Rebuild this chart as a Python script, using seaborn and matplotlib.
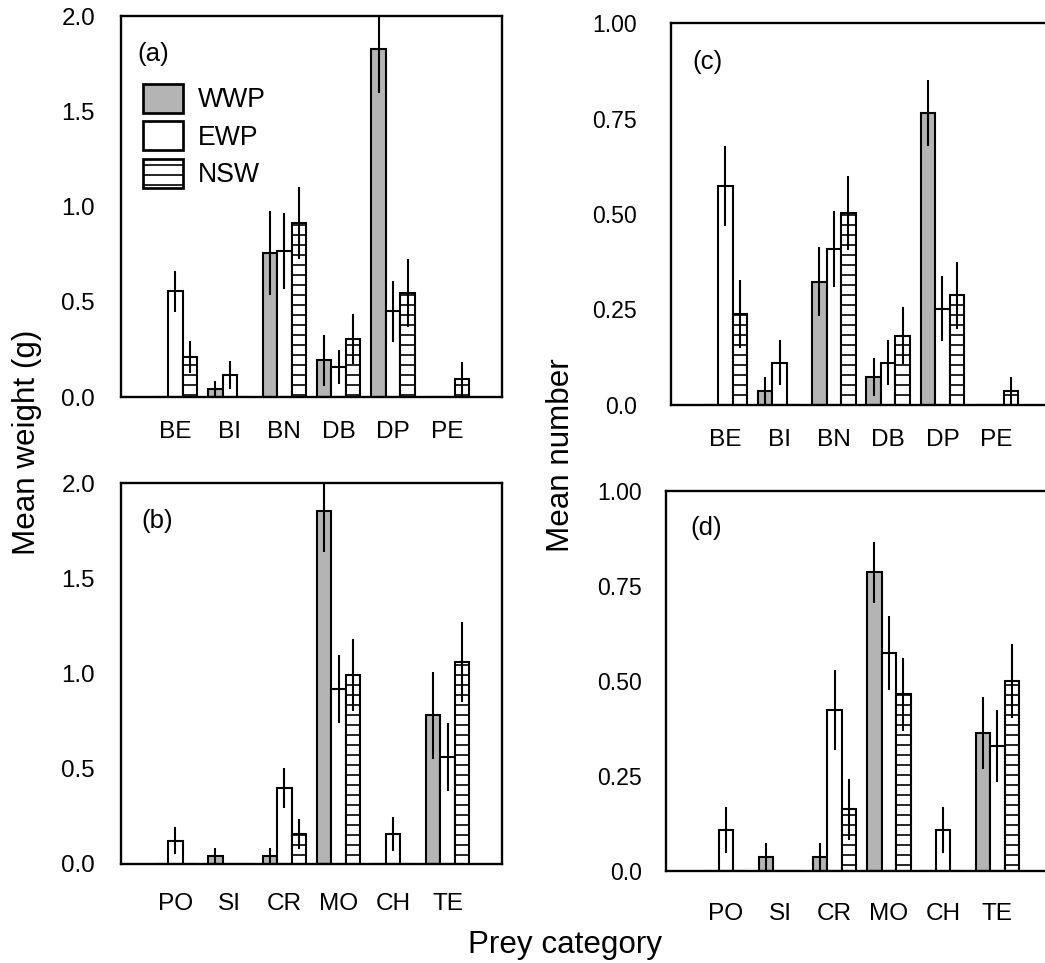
import numpy as np
import pandas as pd
import matplotlib
matplotlib.use("Agg")
import matplotlib.pyplot as plt
from matplotlib.patches import Patch
import seaborn as sns

# ---------------- data ----------------
sites = ["WWP", "EWP", "NSW"]
cats_top = ["BE", "BI", "BN", "DB", "DP", "PE"]
cats_bot = ["PO", "SI", "CR", "MO", "CH", "TE"]

# (a) mean weight, top categories
wt_top_WWP = [0.0, 0.042, 0.756, 0.193, 1.826, 0.0]
wt_top_EWP = [0.554, 0.116, 0.768, 0.156, 0.449, 0.0]
wt_top_NSW = [0.209, 0.0, 0.914, 0.304, 0.546, 0.093]
wt_top_WWP_se = [0.0, 0.040, 0.220, 0.135, 0.230, 0.0]
wt_top_EWP_se = [0.110, 0.075, 0.200, 0.090, 0.160, 0.0]
wt_top_NSW_se = [0.083, 0.0, 0.190, 0.133, 0.180, 0.090]

# (b) mean weight, bottom categories
wt_bot_WWP = [0.0, 0.042, 0.042, 1.855, 0.0, 0.782]
wt_bot_EWP = [0.122, 0.0, 0.397, 0.920, 0.157, 0.562]
wt_bot_NSW = [0.0, 0.0, 0.157, 0.992, 0.0, 1.062]
wt_bot_WWP_se = [0.0, 0.040, 0.040, 0.215, 0.0, 0.228]
wt_bot_EWP_se = [0.070, 0.0, 0.105, 0.180, 0.090, 0.178]
wt_bot_NSW_se = [0.0, 0.0, 0.080, 0.190, 0.0, 0.210]

# (c) mean number, top categories
nb_top_WWP = [0.0, 0.036, 0.322, 0.073, 0.764, 0.0]
nb_top_EWP = [0.574, 0.110, 0.408, 0.110, 0.251, 0.0]
nb_top_NSW = [0.237, 0.0, 0.502, 0.180, 0.287, 0.036]
nb_top_WWP_se = [0.0, 0.037, 0.090, 0.050, 0.087, 0.0]
nb_top_EWP_se = [0.105, 0.060, 0.100, 0.060, 0.085, 0.0]
nb_top_NSW_se = [0.090, 0.0, 0.097, 0.075, 0.088, 0.037]

# (d) mean number, bottom categories
nb_bot_WWP = [0.0, 0.035, 0.035, 0.785, 0.0, 0.363]
nb_bot_EWP = [0.107, 0.0, 0.423, 0.572, 0.107, 0.328]
nb_bot_NSW = [0.0, 0.0, 0.162, 0.464, 0.0, 0.499]
nb_bot_WWP_se = [0.0, 0.037, 0.037, 0.080, 0.0, 0.095]
nb_bot_EWP_se = [0.060, 0.0, 0.105, 0.097, 0.060, 0.094]
nb_bot_NSW_se = [0.0, 0.0, 0.080, 0.097, 0.0, 0.098]

wt_ticks = [0.0, 0.5, 1.0, 1.5, 2.0]
wt_ticklabels = ["0.0", "0.5", "1.0", "1.5", "2.0"]
nb_ticks = [0.0, 0.25, 0.5, 0.75, 1.0]
nb_ticklabels = ["0.0", "0.25", "0.50", "0.75", "1.00"]

# ---------------- style ----------------
sns.set_style("white")
plt.rcParams["font.family"] = ["Liberation Sans", "DejaVu Sans"]
plt.rcParams["text.color"] = "black"
plt.rcParams["axes.labelcolor"] = "black"
plt.rcParams["xtick.color"] = "black"
plt.rcParams["ytick.color"] = "black"
plt.rcParams["hatch.color"] = "black"
plt.rcParams["hatch.linewidth"] = 1.0

DPI = 120
W, H = 1045, 963
fig = plt.figure(figsize=(W / DPI, H / DPI), dpi=DPI)

palette = {"WWP": "#b4b4b4", "EWP": "white", "NSW": "white"}
LW = 1.25


def px(l, t, r, b):
    return [l / W, 1 - b / H, (r - l) / W, (b - t) / H]


def panel(rect, cats, vals, errs, ylim, ticks, ticklabels, xlim, label,
          label_xy, ypad, xpad, ysize):
    ax = fig.add_axes(rect)
    df = pd.DataFrame({
        "cat": np.repeat([cats], 3, axis=0).ravel(),
        "site": np.repeat(sites, len(cats)),
        "val": np.concatenate(vals),
    })
    sns.barplot(data=df, x="cat", y="val", hue="site", order=cats,
                hue_order=sites, palette=palette, edgecolor="black",
                linewidth=LW, errorbar=None, saturation=1, width=0.8,
                legend=False, ax=ax, zorder=2)
    for cont, site, e in zip(ax.containers, sites, errs):
        if site == "NSW":
            for bar in cont:
                bar.set_hatch("--")
        xs, ys, es = [], [], []
        for bar, ee in zip(cont, e):
            if ee > 0:
                xs.append(bar.get_x() + bar.get_width() / 2)
                ys.append(bar.get_height())
                es.append(ee)
        ax.errorbar(xs, ys, yerr=es, fmt="none", ecolor="black",
                    elinewidth=LW, capsize=0, zorder=3)
    ax.set_ylim(*ylim)
    ax.set_xlim(*xlim)
    ax.set_yticks(ticks)
    ax.set_yticklabels(ticklabels)
    ax.set_xlabel("")
    ax.set_ylabel("")
    ax.tick_params(axis="y", direction="in", length=7.8, width=1.3,
                   pad=ypad, labelsize=ysize, colors="black")
    ax.tick_params(axis="x", length=0, pad=xpad, labelsize=14.6,
                   colors="black")
    for s in ax.spines.values():
        s.set_visible(True)
        s.set_linewidth(1.4)
        s.set_color("black")
    ax.text(label_xy[0], label_xy[1], label, transform=ax.transAxes,
            ha="left", va="center", fontsize=15.5, color="black")
    return ax


ax_a = panel(px(121, 16, 502, 397), cats_top,
             [wt_top_WWP, wt_top_EWP, wt_top_NSW],
             [wt_top_WWP_se, wt_top_EWP_se, wt_top_NSW_se],
             (0, 2.0), wt_ticks, wt_ticklabels, (-1, 6), "(a)",
             (0.042, 0.90), 15.6, 14.4, 14.5)
ax_b = panel(px(121, 483.3, 502, 864), cats_bot,
             [wt_bot_WWP, wt_bot_EWP, wt_bot_NSW],
             [wt_bot_WWP_se, wt_bot_EWP_se, wt_bot_NSW_se],
             (0, 2.0), wt_ticks, wt_ticklabels, (-1, 6), "(b)",
             (0.054, 0.90), 15.6, 17.4, 14.5)
ax_c = panel(px(671, 23.3, 1051, 404.5), cats_top,
             [nb_top_WWP, nb_top_EWP, nb_top_NSW],
             [nb_top_WWP_se, nb_top_EWP_se, nb_top_NSW_se],
             (0, 1.0), nb_ticks, nb_ticklabels, (-1, 6), "(c)",
             (0.055, 0.898), 20.5, 14.4, 13.8)
ax_d = panel(px(665.7, 490.7, 1051.7, 870.7), cats_bot,
             [nb_bot_WWP, nb_bot_EWP, nb_bot_NSW],
             [nb_bot_WWP_se, nb_bot_EWP_se, nb_bot_NSW_se],
             (0, 1.0), nb_ticks, nb_ticklabels, (-1.11, 6), "(d)",
             (0.063, 0.902), 14.4, 19.2, 13.8)

# legend in panel (a)
handles = [Patch(facecolor=palette[s], edgecolor="black", linewidth=LW * 1.3,
                 hatch="--" if s == "NSW" else None) for s in sites]
ax_a.legend(handles, sites, loc="upper left", bbox_to_anchor=(0.058, 0.822),
            frameon=False, fontsize=16, handlelength=1.5, handleheight=1.3,
            labelspacing=0.3, handletextpad=0.55, borderpad=0,
            borderaxespad=0, labelcolor="black")

fig.text(27 / W, 1 - 442 / H, "Mean weight (g)", rotation=90, ha="center",
         va="center", fontsize=18.8, color="black")
fig.text(561 / W, 1 - 455 / H, "Mean number", rotation=90, ha="center",
         va="center", fontsize=18.8, color="black")
fig.text(565 / W, 1 - 953 / H, "Prey category", ha="center",
         va="baseline", fontsize=18.8, color="black")

fig.savefig("out.png", dpi=DPI)
